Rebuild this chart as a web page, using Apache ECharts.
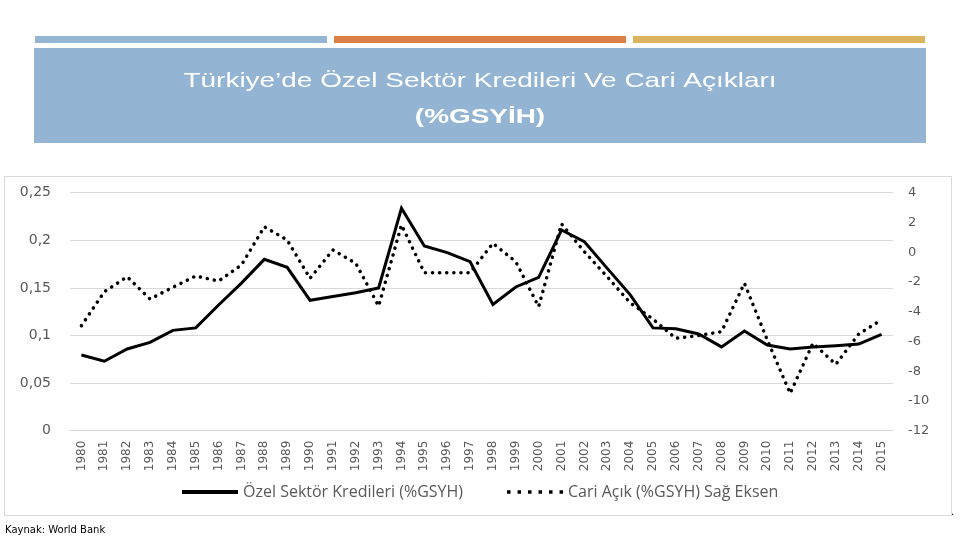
<!DOCTYPE html>
<html><head><meta charset="utf-8">
<script src="https://cdn.jsdelivr.net/npm/echarts@6/dist/echarts.min.js"></script>
<style>html,body{margin:0;padding:0;background:#fff}#c{width:960px;height:540px}</style>
</head><body><div id="c"></div>
<script>
const years = ['1980','1981','1982','1983','1984','1985','1986','1987','1988','1989','1990','1991','1992','1993','1994','1995','1996','1997','1998','1999','2000','2001','2002','2003','2004','2005','2006','2007','2008','2009','2010','2011','2012','2013','2014','2015'];
const privateCredit = [0.0795,0.073,0.0858,0.0928,0.1054,0.108,0.132,0.155,0.18,0.1716,0.137,0.141,0.145,0.150,0.2336,0.194,0.187,0.1775,0.1327,0.151,0.161,0.2108,0.1985,0.1705,0.143,0.108,0.107,0.1016,0.088,0.1047,0.09,0.0858,0.088,0.0893,0.091,0.1013];
const currentAccount = [-4.94,-2.66,-1.65,-3.15,-2.36,-1.6,-1.94,-0.86,1.71,0.82,-1.76,0.15,-0.75,-3.62,1.83,-1.38,-1.38,-1.38,0.6,-0.64,-3.66,1.9,0.03,-1.65,-3.4,-4.5,-5.79,-5.6,-5.34,-2.09,-5.9,-9.49,-6.12,-7.54,-5.5,-4.55];
const seriesNames = ['Özel Sektör Kredileri (%GSYH)','Cari Açık (%GSYH) Sağ Eksen'];
const titleLine1 = 'Türkiye’de Özel Sektör Kredileri Ve Cari Açıkları';
const titleLine2 = '(%GSYİH)';
const sourceText = 'Kaynak: World Bank';

const chart = echarts.init(document.getElementById('c'), null, {renderer:'canvas'});
chart.setOption({
  animation:false,
  backgroundColor:'#ffffff',
  graphic:[
    {type:'rect',shape:{x:35,y:36,width:292,height:7},style:{fill:'#94b6d2'}},
    {type:'rect',shape:{x:334,y:36,width:292,height:7},style:{fill:'#dd8047'}},
    {type:'rect',shape:{x:633,y:36,width:292,height:7},style:{fill:'#dcb35f'}},
    {type:'rect',shape:{x:34,y:48,width:892,height:95},style:{fill:'#94b4d3'}},
    {type:'text',x:480,y:81,scaleX:1.33,style:{text:titleLine1,fill:'#ffffff',textAlign:'center',textVerticalAlign:'middle',font:'21px "Liberation Sans", Arial, sans-serif'}},
    {type:'text',x:480,y:117,scaleX:1.33,style:{text:titleLine2,fill:'#ffffff',textAlign:'center',textVerticalAlign:'middle',font:'bold 21px "Liberation Sans", Arial, sans-serif'}},
    {type:'rect',shape:{x:4.5,y:176.5,width:947,height:339},style:{fill:'none',stroke:'#d9d9d9',lineWidth:1}},
    {type:'text',left:5,top:525,style:{text:sourceText,fill:'#000',font:'10px "DejaVu Sans", sans-serif'}},
    {type:'text',left:951,top:507,style:{text:'.',fill:'#000',font:'10px "DejaVu Sans", sans-serif'}}
  ],
  grid:{left:70,right:67,top:192.7,bottom:109.3,containLabel:false},
  legend:{
    left:177,top:479,itemWidth:56,itemHeight:14,itemGap:44,
    textStyle:{color:'#595959',fontSize:16,fontFamily:'"Open Sans", sans-serif'},
    data:[
      {name:seriesNames[0],icon:'path://M0,0L56,0L56,4L0,4Z'},
      {name:seriesNames[1],icon:'path://M0,0h3v3h-3zM9,0h3v3h-3zM18,0h3v3h-3zM27,0h3v3h-3zM36,0h3v3h-3zM45,0h3v3h-3z'}
    ]
  },
  xAxis:{
    type:'category',data:years,boundaryGap:true,
    axisLine:{lineStyle:{color:'#d9d9d9'}},axisTick:{show:false},
    axisLabel:{rotate:90,interval:0,color:'#595959',fontSize:12,fontFamily:'"DejaVu Sans", sans-serif',margin:10}
  },
  yAxis:[
    {type:'value',min:0,max:0.25,interval:0.05,
     axisLine:{show:false},axisTick:{show:false},
     splitLine:{lineStyle:{color:'#d9d9d9',width:1}},
     axisLabel:{color:'#595959',fontSize:14,fontFamily:'"DejaVu Sans", sans-serif',margin:19,
       formatter:v=>String(Math.round(v*100)/100).replace('.',',')}},
    {type:'value',min:-12,max:4,interval:2,position:'right',
     axisLine:{show:false},axisTick:{show:false},splitLine:{show:false},
     axisLabel:{color:'#595959',fontSize:13,fontFamily:'"DejaVu Sans", sans-serif',margin:15,align:'left'}}
  ],
  series:[
    {name:seriesNames[0],type:'line',yAxisIndex:0,data:privateCredit,symbol:'none',
     lineStyle:{color:'#000',width:3,join:'miter'},itemStyle:{color:'#000'}},
    {name:seriesNames[1],type:'line',yAxisIndex:1,data:currentAccount,symbol:'none',
     lineStyle:{color:'#000',width:3.5,type:[0.1,7],cap:'round'},itemStyle:{color:'#000'}}
  ]
});
</script></body></html>
